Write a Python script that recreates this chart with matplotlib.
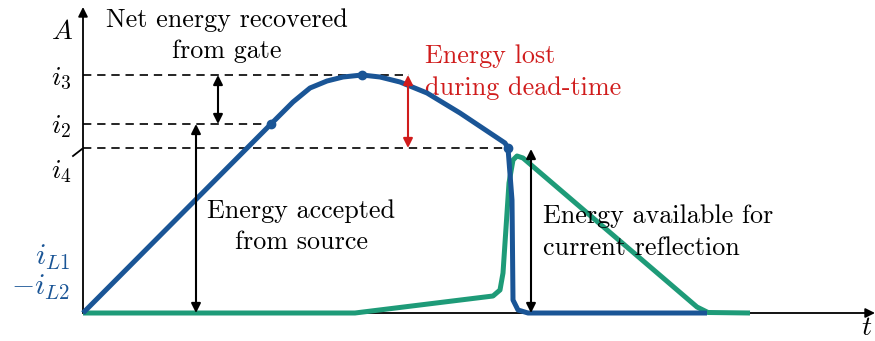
import matplotlib
matplotlib.use("Agg")
import matplotlib.pyplot as plt

plt.rcParams['mathtext.fontset'] = 'cm'

# ---- data (t, A) in schematic units ----
blue_t = [0, 18.8, 21.0, 22.7, 24.4, 26.0, 27.9, 29.7, 31.7, 34.4, 37.7, 41.0,
          42.2, 42.5, 42.9, 43.0, 43.5, 44.5, 62.4]
blue_A = [0, 18.9, 21.1, 22.5, 23.2, 23.6, 23.8, 23.6, 23.1, 22.0, 20.0, 17.8,
          17.0, 16.5, 11.3, 1.3, 0.3, 0.0, 0.0]
green_t = [0, 27.2, 41.0, 41.7, 42.0, 42.6, 43.0, 43.4, 44.0, 61.4, 62.5, 66.7]
green_A = [0, 0, 1.7, 2.3, 4.0, 13.0, 15.3, 15.7, 15.5, 0.6, 0.05, 0]
dot_t = [18.8, 27.9, 42.5]
dot_A = [18.9, 23.8, 16.5]

levels = {'i3': 23.8, 'i2': 18.9, 'i4': 16.5}
level_end_t = {'i3': 32.6, 'i2': 18.8, 'i4': 42.5}

blue = '#1a5596'
green = '#1e9b78'
red = '#d01c1c'

fig = plt.figure(figsize=(8.75, 3.41), dpi=100)
ax = fig.add_axes([0, 0, 1, 1])
ax.set_xlim(-8.3, 79.2)
ax.set_ylim(-2.8, 31.3)
ax.axis('off')

txt = dict(family='cmr10', fontsize=18.8)

# axes arrows
ax.annotate('', xy=(0, 30.6), xytext=(0, 0),
            arrowprops=dict(arrowstyle='-|>', color='black', lw=1.3, mutation_scale=14,
                            shrinkA=0, shrinkB=0))
ax.annotate('', xy=(79.2, 0), xytext=(0, 0),
            arrowprops=dict(arrowstyle='-|>', color='black', lw=1.3, mutation_scale=14,
                            shrinkA=0, shrinkB=0))
ax.plot([-1.0, -0.1], [15.7, 16.4], color='black', lw=1.3)

# dashed level lines
for k in ['i3', 'i2', 'i4']:
    ax.plot([0, level_end_t[k]], [levels[k], levels[k]], color='black', lw=1.2,
            dashes=(5, 3.5))

# curves
ax.plot(green_t, green_A, color=green, lw=3.6, solid_joinstyle='round',
        solid_capstyle='butt', zorder=3)
ax.plot(blue_t, blue_A, color=blue, lw=3.6, solid_joinstyle='round',
        solid_capstyle='butt', zorder=4)
ax.plot(dot_t, dot_A, 'o', color=blue, ms=6, zorder=5)

def darrow(x, y0, y1, c='black'):
    ax.annotate('', xy=(x, y1), xytext=(x, y0),
                arrowprops=dict(arrowstyle='<|-|>', color=c, lw=1.5, mutation_scale=14,
                                shrinkA=0, shrinkB=0), zorder=6)

darrow(13.5, levels['i2'], levels['i3'])
darrow(11.3, 0, levels['i2'])
darrow(32.5, levels['i4'], levels['i3'], red)
darrow(44.8, 0, 16.4)

# axis labels
ax.text(-2.1, 28.2, '$A$', fontsize=20, ha='center', va='center')
ax.text(-2.2, 23.5, '$i_3$', fontsize=20, ha='center', va='center')
ax.text(-2.2, 18.7, '$i_2$', fontsize=20, ha='center', va='center')
ax.text(-2.2, 14.2, '$i_4$', fontsize=20, ha='center', va='center')
ax.text(-1.3, 4.8, '$i_{L1}$', fontsize=21.5, ha='right', va='baseline', color=blue)
ax.text(-1.3, 1.8, '$-i_{L2}$', fontsize=21.5, ha='right', va='baseline', color=blue)
ax.text(78.4, -2.2, '$t$', fontsize=20, ha='center', va='baseline')

# annotations
ax.text(14.35, 28.6, 'Net energy recovered', ha='center', va='baseline', **txt)
ax.text(14.35, 25.5, 'from gate', ha='center', va='baseline', **txt)
ax.text(34.2, 25.0, 'Energy lost', ha='left', va='baseline', color=red, **txt)
ax.text(34.2, 21.8, 'during dead-time', ha='left', va='baseline', color=red, **txt)
ax.text(21.85, 9.5, 'Energy accepted', ha='center', va='baseline', **txt)
ax.text(21.85, 6.4, 'from source', ha='center', va='baseline', **txt)
ax.text(46.0, 9.0, 'Energy available for', ha='left', va='baseline', **txt)
ax.text(46.0, 5.8, 'current reflection', ha='left', va='baseline', **txt)

fig.savefig('out.png', dpi=100)
